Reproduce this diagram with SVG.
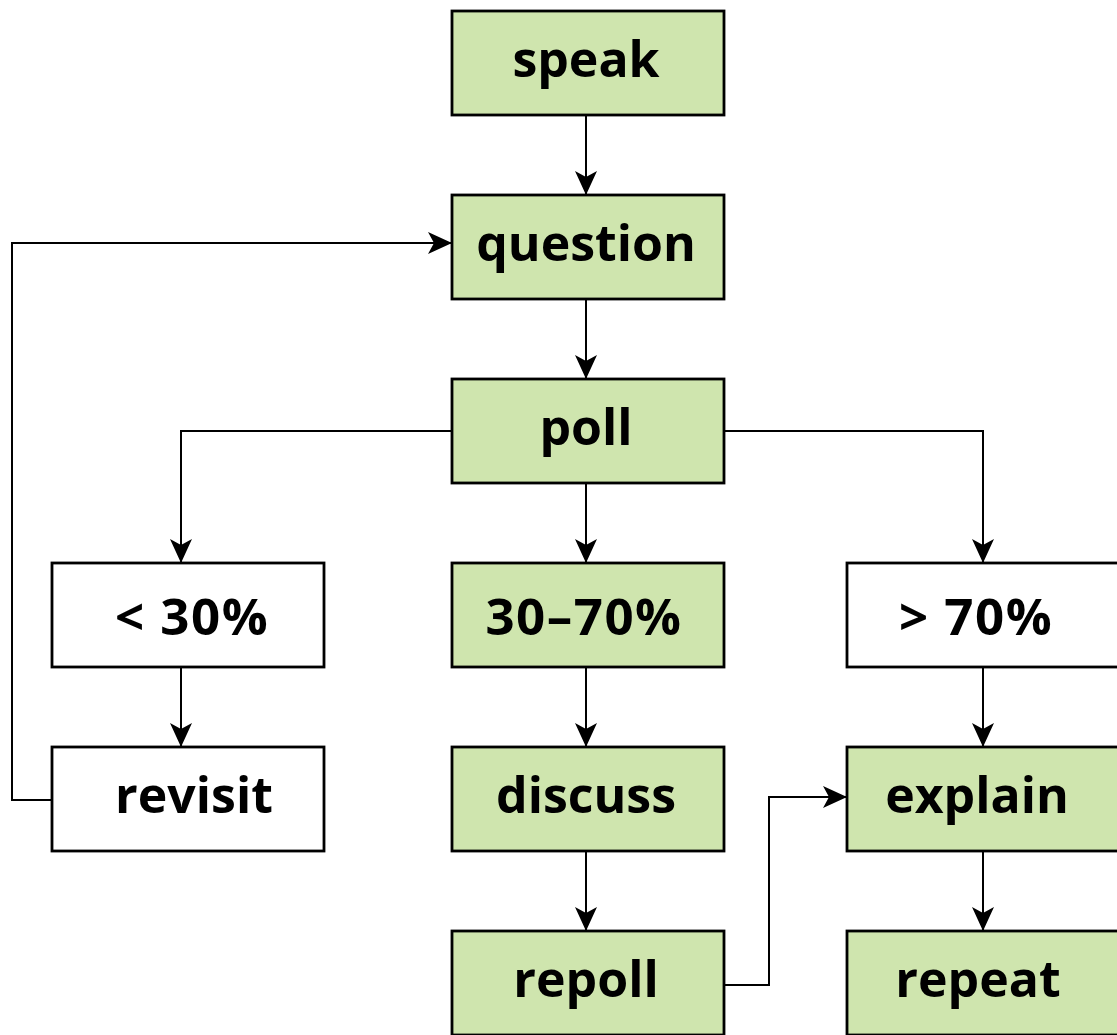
<svg xmlns="http://www.w3.org/2000/svg" width="1117" height="1035" viewBox="0 0 1117 1035">
<style>
.g{fill:#cfe5ae;stroke:#000;stroke-width:2.8}
.w{fill:#fff;stroke:#000;stroke-width:2.8}
text{font-family:"Open Sans","DejaVu Sans",sans-serif;font-weight:bold;font-size:50px;text-anchor:middle;fill:#000}
.p{font-size:51px;letter-spacing:1.5px}
.c{fill:none;stroke:#000;stroke-width:2}
</style>
<defs>
<marker id="a" markerUnits="userSpaceOnUse" markerWidth="26" markerHeight="22" refX="24" refY="11" orient="auto">
<path d="M0,0 L24,11 L0,22 L6,11 Z" fill="#000"/>
</marker>
</defs>
<rect width="1117" height="1035" fill="#fff"/>
<g id="connectors">
<path class="c" d="M586,115 V195" marker-end="url(#a)"/>
<path class="c" d="M586,299 V379" marker-end="url(#a)"/>
<path class="c" d="M452,431 H181 V563" marker-end="url(#a)"/>
<path class="c" d="M586,483 V563" marker-end="url(#a)"/>
<path class="c" d="M724,431 H983 V563" marker-end="url(#a)"/>
<path class="c" d="M181,667 V747" marker-end="url(#a)"/>
<path class="c" d="M586,667 V747" marker-end="url(#a)"/>
<path class="c" d="M983,667 V747" marker-end="url(#a)"/>
<path class="c" d="M586,851 V931" marker-end="url(#a)"/>
<path class="c" d="M983,851 V931" marker-end="url(#a)"/>
<path class="c" d="M52,800 H12 V243 H452" marker-end="url(#a)"/>
<path class="c" d="M724,985 H769 V797 H847" marker-end="url(#a)"/>
</g>
<g id="speak"><rect class="g" x="452" y="11" width="272" height="104"/><text x="586" y="77">speak</text></g>
<g id="question"><rect class="g" x="452" y="195" width="272" height="104"/><text x="586" y="261">question</text></g>
<g id="poll"><rect class="g" x="452" y="379" width="272" height="104"/><text x="586" y="445">poll</text></g>
<g id="lt30"><rect class="w" x="52" y="563" width="272" height="104"/><text class="p" x="192" y="635">&lt; 30%</text></g>
<g id="mid"><rect class="g" x="452" y="563" width="272" height="104"/><text class="p" x="584" y="635">30–70%</text></g>
<g id="gt70"><rect class="w" x="847" y="563" width="272" height="104"/><text class="p" x="976" y="635">&gt; 70%</text></g>
<g id="revisit"><rect class="w" x="52" y="747" width="272" height="104"/><text x="194" y="813">revisit</text></g>
<g id="discuss"><rect class="g" x="452" y="747" width="272" height="104"/><text x="586" y="813">discuss</text></g>
<g id="explain"><rect class="g" x="847" y="747" width="272" height="104"/><text x="977" y="813">explain</text></g>
<g id="repoll"><rect class="g" x="452" y="931" width="272" height="104"/><text x="586" y="997">repoll</text></g>
<g id="repeat"><rect class="g" x="847" y="931" width="272" height="104"/><text x="978" y="997">repeat</text></g>
</svg>
